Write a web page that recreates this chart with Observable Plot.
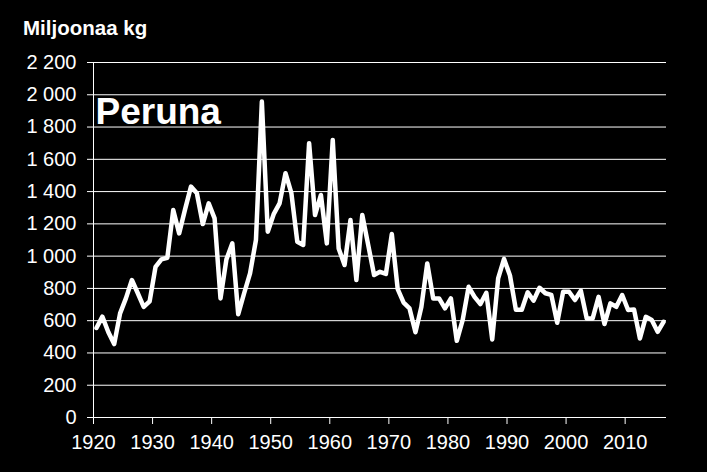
<!DOCTYPE html>
<html><head><meta charset="utf-8">
<script src="https://cdn.jsdelivr.net/npm/d3@7"></script>
<script src="https://cdn.jsdelivr.net/npm/@observablehq/plot@0.6"></script>
<style>
body{margin:0;background:#000;}
#wrap{position:relative;width:707px;height:472px;background:#000;}
#title{position:absolute;left:23px;top:18px;font:bold 20.5px "Liberation Sans",Arial,sans-serif;color:#fff;line-height:20px;white-space:nowrap;}
svg{display:block;}
</style></head><body><div id="wrap"><div id="title">Miljoonaa kg</div></div>
<script>
const firstYear = 1920;
const production = [
  555, 625, 530, 455, 645, 740, 852, 770, 685, 720,
  934, 980, 990, 1286, 1141, 1290, 1431, 1390, 1199, 1327,
  1234, 738, 980, 1079, 640, 770, 893, 1100, 1958, 1151,
  1260, 1327, 1514, 1390, 1089, 1069, 1700, 1255, 1379, 1079,
  1720, 1048, 945, 1224, 852, 1255, 1070, 883, 903, 890,
  1137, 795, 712, 676, 528, 685, 955, 738, 738, 676,
  738, 475, 605, 810, 748, 703, 773, 484, 862, 983,
  880, 668, 668, 776, 724, 804, 770, 760, 587, 779,
  779, 728, 786, 614, 614, 748, 579, 707, 686, 759,
  666, 670, 490, 624, 604, 531, 593
];
const yTicks = [0, 200, 400, 600, 800, 1000, 1200, 1400, 1600, 1800, 2000, 2200];
const xTicks = [1920, 1930, 1940, 1950, 1960, 1970, 1980, 1990, 2000, 2010];
const seriesLabel = "Peruna";

const data = production.map((v, i) => ({year: firstYear + i, value: v}));
const fmt = d => d3.format(",")(d).replace(/,/g, " ");
const font = "Liberation Sans, Arial, sans-serif";

const chart = Plot.plot({
  width: 707, height: 472,
  marginTop: 62, marginBottom: 55, marginLeft: 93, marginRight: 41,
  style: {background: "#000", color: "#fff", fontFamily: font, fontSize: "20px"},
  x: {domain: [1920, 2017], label: null},
  y: {domain: [0, 2200], label: null},
  marks: [
    Plot.gridY(yTicks, {stroke: "#fff", strokeOpacity: 1, strokeWidth: 1}),
    Plot.axisY(yTicks, {tickSize: 6, tickPadding: 11, tickFormat: fmt, stroke: "#fff", strokeOpacity: 1, fontSize: 20, fill: "#fff"}),
    Plot.axisX(xTicks, {tickSize: 7, tickPadding: 10, tickFormat: d => String(d), stroke: "#fff", strokeOpacity: 1, fontSize: 20, fill: "#fff"}),
    Plot.ruleX([1920], {stroke: "#fff", strokeWidth: 1}),
    Plot.ruleY([0], {stroke: "#fff", strokeWidth: 1}),
    Plot.lineY(data, {x: d => d.year + 0.5, y: "value", stroke: "#fff", strokeWidth: 4.5, strokeLinejoin: "round", strokeLinecap: "round"}),
    Plot.text([seriesLabel], {frameAnchor: "top-left", dx: 2, dy: 35, textAnchor: "start", fontSize: 37, fontWeight: "bold", fill: "#fff", fontFamily: font})
  ]
});
document.getElementById("wrap").appendChild(chart);
</script>
</body></html>
